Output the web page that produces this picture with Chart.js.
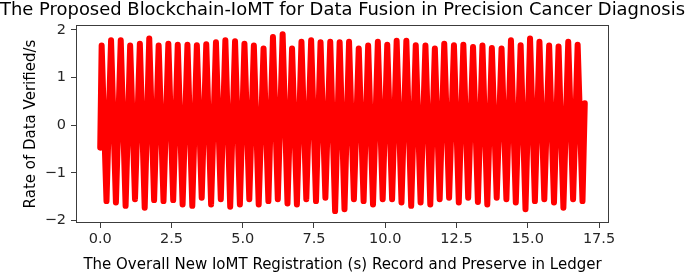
<!DOCTYPE html>
<html>
<head>
<meta charset="utf-8">
<script src="https://cdn.jsdelivr.net/npm/chart.js@4"></script>
<style>
  html, body { margin: 0; padding: 0; background: #fff; }
  #chart { display: block; }
</style>
</head>
<body>
<canvas id="chart" width="685" height="276"></canvas>
<script>
// time (x) of every turning point, start and end included
var time = [
	0.00,
	0.05, 0.22, 0.38, 0.55, 0.72, 0.89, 1.05, 1.22, 1.39, 1.56,
	1.72, 1.89, 2.05, 2.22, 2.39, 2.56, 2.72, 2.89, 3.06, 3.23,
	3.39, 3.56, 3.72, 3.89, 4.06, 4.23, 4.39, 4.56, 4.73, 4.90,
	5.06, 5.23, 5.39, 5.56, 5.73, 5.90, 6.06, 6.23, 6.40, 6.57,
	6.73, 6.90, 7.06, 7.23, 7.40, 7.57, 7.73, 7.90, 8.07, 8.24,
	8.40, 8.57, 8.73, 8.90, 9.07, 9.24, 9.40, 9.57, 9.74, 9.91,
	10.07, 10.24, 10.40, 10.57, 10.74, 10.91, 11.07, 11.24, 11.41, 11.58,
	11.74, 11.91, 12.07, 12.24, 12.41, 12.58, 12.74, 12.91, 13.08, 13.25,
	13.41, 13.58, 13.74, 13.91, 14.08, 14.25, 14.41, 14.58, 14.75, 14.92,
	15.08, 15.25, 15.41, 15.58, 15.75, 15.92, 16.08, 16.25, 16.42, 16.59,
	16.75, 16.92,
	17.00
];

// rate of data verified/s at those points (peak, trough, peak, trough ...)
var rate = [
	-0.47,
	1.67, -1.59, 1.78, -1.62, 1.78, -1.69, 1.67, -1.55, 1.71, -1.73,
	1.82, -1.57, 1.67, -1.59, 1.71, -1.57, 1.69, -1.66, 1.69, -1.69,
	1.68, -1.52, 1.70, -1.66, 1.74, -1.55, 1.78, -1.71, 1.76, -1.66,
	1.71, -1.55, 1.67, -1.66, 1.61, -1.59, 1.85, -1.55, 1.91, -1.64,
	1.61, -1.66, 1.75, -1.55, 1.78, -1.59, 1.74, -1.52, 1.75, -1.80,
	1.74, -1.76, 1.75, -1.55, 1.61, -1.59, 1.67, -1.66, 1.75, -1.55,
	1.69, -1.55, 1.77, -1.62, 1.77, -1.69, 1.68, -1.62, 1.67, -1.66,
	1.61, -1.55, 1.71, -1.52, 1.68, -1.62, 1.69, -1.52, 1.64, -1.61,
	1.67, -1.66, 1.62, -1.52, 1.61, -1.55, 1.78, -1.62, 1.68, -1.76,
	1.82, -1.59, 1.75, -1.55, 1.67, -1.62, 1.65, -1.73, 1.75, -1.55,
	1.69, -1.59,
	0.46
];

var xTicks = [0, 2.5, 5, 7.5, 10, 12.5, 15, 17.5];
var yTicks = [-2, -1, 0, 1, 2];

var titleText = "The Proposed Blockchain-IoMT for Data Fusion in Precision Cancer Diagnosis";
var xLabel = "The Overall New IoMT Registration (s) Record and Preserve in Ledger";
var yLabel = "Rate of Data Verified/s";

var FONT = "'DejaVu Sans', sans-serif";
var INK = "#262626";

// matplotlib style box round the axes
var frameBox = {
	id: "frameBox",
	afterDatasetsDraw: function(chart) {
		var a = chart.chartArea, c = chart.ctx;
		c.save();
		c.strokeStyle = "#3c3c3c";
		c.lineWidth = 1;
		c.strokeRect(Math.round(a.left) + 0.5, Math.round(a.top) + 0.5,
			Math.round(a.right - a.left) - 1, Math.round(a.bottom - a.top) - 1);
		c.restore();
	}
};

var points = time.map((t, i) => ({x: t, y: rate[i]}));

var ctx = document.getElementById("chart").getContext("2d");
var chart = new Chart(ctx, {
	type: "line",
	data: {
		datasets: [{
			data: points,
			borderColor: "#ff0000",
			backgroundColor: "#ff0000",
			borderWidth: 6,
			borderJoinStyle: "round",
			borderCapStyle: "round",
			pointRadius: 0,
			tension: 0,
			fill: false
		}]
	},
	options: {
		responsive: false,
		animation: false,
		devicePixelRatio: 1,
		layout: { padding: 0 },
		plugins: {
			legend: { display: false },
			tooltip: { enabled: false },
			title: {
				display: true,
				text: titleText,
				color: "#000",
				font: { family: FONT, size: 18, weight: "normal", lineHeight: 1.2 },
				padding: { top: 0, bottom: 3.5 }
			}
		},
		scales: {
			x: {
				type: "linear",
				min: -0.85,
				max: 17.85,
				afterFit: s => { s.height = 53; },
				afterBuildTicks: s => { s.ticks = xTicks.map(v => ({value: v})); },
				ticks: {
					color: INK,
					font: { family: FONT, size: 14.5 },
					padding: 3,
					maxRotation: 0,
					callback: v => v.toFixed(1)
				},
				grid: { drawOnChartArea: false, drawTicks: true, tickLength: 5, color: "#3c3c3c" },
				border: { display: false },
				title: {
					display: true,
					text: xLabel,
					color: "#000",
					font: { family: FONT, size: 15, lineHeight: 1.2 },
					padding: { top: 0, bottom: 2 }
				}
			},
			y: {
				type: "linear",
				min: -2.05,
				max: 2.1,
				afterFit: s => { s.width = 76; },
				afterBuildTicks: s => { s.ticks = yTicks.map(v => ({value: v})); },
				ticks: {
					color: INK,
					font: { family: FONT, size: 14.5 },
					padding: 5,
					callback: v => String(v).replace("-", "\u2212")
				},
				grid: { drawOnChartArea: false, drawTicks: true, tickLength: 5, color: "#3c3c3c" },
				border: { display: false },
				title: {
					display: true,
					text: yLabel,
					color: "#000",
					font: { family: FONT, size: 15, lineHeight: 1.2 },
					padding: { top: 22, bottom: 0 }
				}
			},
			// empty right-hand space so the title centres on the whole figure
			yRight: {
				type: "linear",
				position: "right",
				min: 0,
				max: 1,
				afterFit: s => { s.width = 76; },
				ticks: { display: false },
				grid: { display: false },
				border: { display: false }
			}
		}
	},
	plugins: [frameBox]
});
</script>
</body>
</html>
